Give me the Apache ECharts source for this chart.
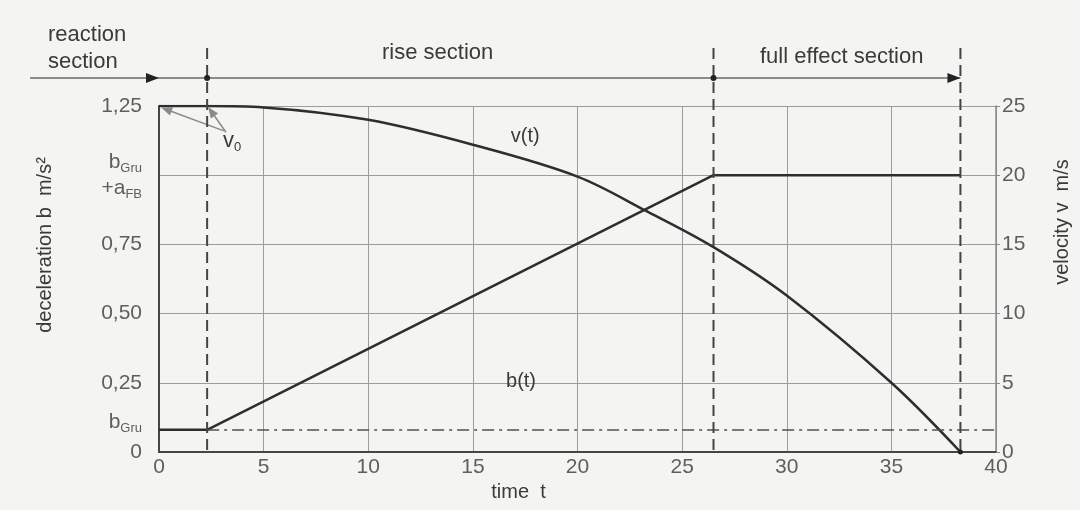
<!DOCTYPE html>
<html>
<head>
<meta charset="utf-8">
<script src="https://cdn.jsdelivr.net/npm/echarts@6/dist/echarts.min.js"></script>
<style>
  html, body { margin: 0; padding: 0; background: #f4f4f2; }
  #main { width: 1080px; height: 510px; }
</style>
</head>
<body>
<div id="main"></div>
<script>
// values
var tB = [0, 2.3, 26.5, 38.3];
var bVals = [0.08, 0.08, 1.0, 1.0];
var tV = [0, 2.3, 5, 10, 15, 20, 23.3, 26.5, 30, 35, 38.3];
var vVals = [25, 25, 24.9, 24.0, 22.2, 19.9, 17.4, 14.8, 11.3, 5.0, 0];
var bGru = 0.08;
var sectionT = [2.3, 26.5, 38.3];
var leftTicks = ['0', '0,25', '0,50', '0,75', 'bFB', '1,25'];

var bData = [], vData = [];
for (var i = 0; i < tB.length; i++) bData.push([tB[i], bVals[i]]);
for (var j = 0; j < tV.length; j++) vData.push([tV[j], vVals[j]]);

var chart = echarts.init(document.getElementById('main'));
var tickColor = '#5e5e5e';
var ink = '#3a3a3a';

var option = {
  backgroundColor: '#f4f4f2',
  animation: false,
  grid: { left: 159, right: 80, top: 106, bottom: 58 },
  xAxis: {
    type: 'value', min: 0, max: 40, interval: 5,
    name: 'time  t', nameLocation: 'middle', nameGap: 28,
    nameTextStyle: { fontFamily: 'Liberation Sans', fontSize: 20, color: ink, padding: [0, 118, 0, 0] },
    axisLine: { lineStyle: { color: '#454545', width: 2 } },
    axisTick: { show: false },
    axisLabel: { fontFamily: 'Liberation Sans', fontSize: 21, color: tickColor, margin: 5 },
    splitLine: { lineStyle: { color: '#9c9c9c', width: 1 } }
  },
  yAxis: [{
    type: 'value', min: 0, max: 1.25, interval: 0.25, position: 'left',
    name: 'deceleration b  m/s²', nameLocation: 'middle', nameGap: 104,
    nameTextStyle: { fontFamily: 'Liberation Sans', fontSize: 20, color: ink, padding: [0, 0, 0, 68] },
    axisLine: { show: true, lineStyle: { color: '#454545', width: 2 } },
    axisTick: { show: false },
    axisLabel: {
      fontFamily: 'Liberation Sans', fontSize: 21, color: tickColor, margin: 17,
      formatter: function (val) {
        var k = Math.round(val / 0.25);
        if (leftTicks[k] === 'bFB') return '{b|b}{s|Gru}\n{b|+a}{s|FB}';
        return leftTicks[k];
      },
      rich: {
        b: { fontFamily: 'Liberation Sans', fontSize: 21, color: tickColor, lineHeight: 26 },
        s: { fontFamily: 'Liberation Sans', fontSize: 13, color: tickColor, lineHeight: 26, verticalAlign: 'bottom' }
      }
    },
    splitLine: { lineStyle: { color: '#9c9c9c', width: 1 } }
  }, {
    type: 'value', min: 0, max: 25, interval: 5, position: 'right',
    name: 'velocity v  m/s', nameLocation: 'middle', nameGap: 56,
    nameTextStyle: { fontFamily: 'Liberation Sans', fontSize: 20, color: ink, padding: [0, 0, 0, 114] },
    axisLine: { show: true, lineStyle: { color: '#8a8a8a', width: 1.5 } },
    axisTick: { show: true, length: 4, lineStyle: { color: '#8a8a8a' } },
    axisLabel: { fontFamily: 'Liberation Sans', fontSize: 21, color: tickColor, margin: 6 },
    splitLine: { show: false }
  }],
  series: [{
    name: 'b(t)', type: 'line', yAxisIndex: 0, data: bData,
    symbol: 'none', lineStyle: { color: '#2e2e2e', width: 2.5 },
    markLine: {
      silent: true, symbol: 'none',
      lineStyle: { color: '#505050', width: 1.5, type: [12, 5, 3, 5] },
      label: { show: false },
      data: [[{ coord: [sectionT[0], bGru] }, { coord: [40, bGru] }]]
    }
  }, {
    name: 'v(t)', type: 'line', yAxisIndex: 1, data: vData,
    symbol: 'none', smooth: 0.35, lineStyle: { color: '#2e2e2e', width: 2.5 },
    markLine: {
      silent: true, symbol: ['none', 'triangle'], symbolSize: [9, 11],
      lineStyle: { color: '#8a8a8a', width: 1.5, type: 'solid' },
      itemStyle: { color: '#2a2a2a' },
      label: { show: false },
      data: [
        [{ coord: [3.1, 23.2] }, { coord: [0.35, 24.75] }],
        [{ coord: [3.2, 23.1] }, { coord: [2.5, 24.6] }]
      ]
    }
  }]
};
chart.setOption(option);

// annotations placed from axis coordinates
function px(t, v) { return chart.convertToPixel({ xAxisIndex: 0, yAxisIndex: 1 }, [t, v]); }
var plotTop = px(0, 25)[1], plotBottom = px(0, 0)[1];
var arrowY = plotTop - 28;
var g = [];
for (var s = 0; s < sectionT.length; s++) {
  var x = px(sectionT[s], 0)[0];
  g.push({ type: 'line', shape: { x1: x, y1: plotTop - 58, x2: x, y2: plotBottom },
    style: { stroke: '#444', lineWidth: 2, lineDash: [11, 6] }, z: 10 });
}
var x0 = px(0, 0)[0], xEnd = px(sectionT[2], 0)[0];
g.push({ type: 'line', shape: { x1: 30, y1: arrowY, x2: xEnd, y2: arrowY },
  style: { stroke: '#6a6a6a', lineWidth: 1.5 }, z: 10 });
[x0, xEnd].forEach(function (tx) {
  g.push({ type: 'polygon', shape: { points: [[tx, arrowY], [tx - 13, arrowY - 5], [tx - 13, arrowY + 5]] },
    style: { fill: '#222' }, z: 11 });
});
[sectionT[0], sectionT[1]].forEach(function (t) {
  g.push({ type: 'circle', shape: { cx: px(t, 0)[0], cy: arrowY, r: 3 }, style: { fill: '#222' }, z: 11 });
});
g.push({ type: 'circle', shape: { cx: xEnd, cy: plotBottom, r: 2.5 }, style: { fill: '#222' }, z: 11 });

function txt(str, x, y, size, color, align) {
  g.push({ type: 'text', x: x, y: y, z: 12,
    style: { text: str, fontFamily: 'Liberation Sans', fontSize: size, fill: color,
      align: align || 'left', verticalAlign: 'middle' } });
}
txt('reaction', 48, 35, 22, ink);
txt('section', 48, 62, 22, ink);
txt('rise section', 382, 53, 22, ink);
txt('full effect section', 760, 57, 22, ink);
var pv = px(17.5, 22.8); txt('v(t)', pv[0], pv[1], 20, ink, 'center');
var pb = px(17.3, 5.1); txt('b(t)', pb[0], pb[1], 20, ink, 'center');
var pv0 = px(3.5, 22.5);
g.push({ type: 'text', x: pv0[0], y: pv0[1], z: 12,
  style: { text: '{v|v}{s|0}', verticalAlign: 'middle', align: 'center',
    rich: { v: { fontFamily: 'Liberation Sans', fontSize: 22, fill: ink, lineHeight: 26 },
            s: { fontFamily: 'Liberation Sans', fontSize: 13, fill: ink, lineHeight: 26, verticalAlign: 'bottom' } } } });
var pg = chart.convertToPixel({ xAxisIndex: 0, yAxisIndex: 0 }, [0, bGru]);
g.push({ type: 'text', x: pg[0] - 17, y: pg[1] - 8, z: 12,
  style: { text: '{b|b}{s|Gru}', align: 'right', verticalAlign: 'middle',
    rich: { b: { fontFamily: 'Liberation Sans', fontSize: 21, fill: tickColor, lineHeight: 26 },
            s: { fontFamily: 'Liberation Sans', fontSize: 13, fill: tickColor, lineHeight: 26, verticalAlign: 'bottom' } } } });
chart.setOption({ graphic: g });
</script>
</body>
</html>
